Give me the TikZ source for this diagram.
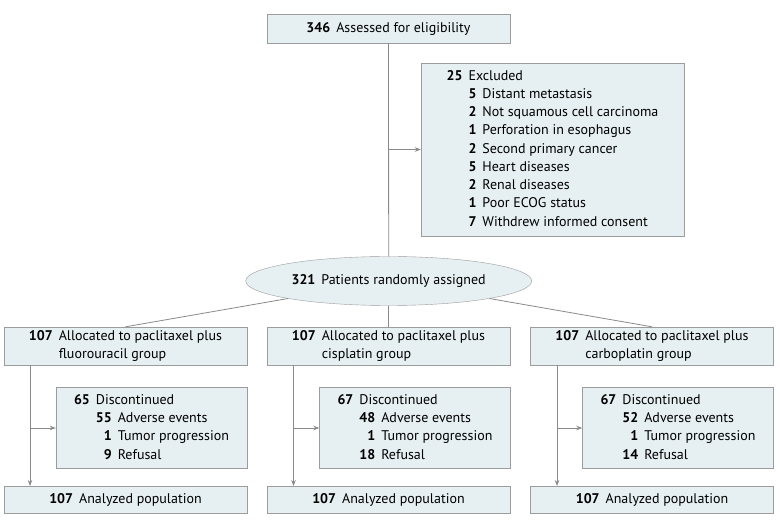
\documentclass[tikz,border=0pt]{standalone}
\usepackage{fontspec}
\setmainfont{PT Sans}
\usetikzlibrary{shapes.geometric,arrows.meta}
\definecolor{boxfill}{HTML}{E6EFF2}
\definecolor{boxline}{HTML}{9C9C9C}
\definecolor{flowline}{HTML}{8A8A8A}
\newcommand{\cnt}[1]{\textbf{#1}\hspace{6pt}}

\begin{document}
\begin{tikzpicture}[x=1pt,y=-1pt,
        font=\fontsize{14}{18.25}\selectfont,
        box/.style={rectangle,draw=boxline,fill=boxfill,inner sep=0pt,align=center},
        flow/.style={draw=flowline,line width=0.8pt},
        arr/.style={flow,-{Stealth[length=6pt,width=4.5pt]}}]
        \useasboundingbox (0,0) rectangle (780,526);
        % screening
        \node[box,minimum width=243,minimum height=29] (assess) at (388.5,28.5) {\cnt{346}Assessed for eligibility};
        \node[box,minimum width=263,minimum height=173] (excl) at (552.5,149.5) {%
            \begin{tabular}{@{}r@{\hspace{6pt}}r@{\hspace{6pt}}l@{}}
            \textbf{25} & \multicolumn{2}{@{}l@{}}{Excluded}\\
            & \textbf{5} & Distant metastasis\\
            & \textbf{2} & Not squamous cell carcinoma\\
            & \textbf{1} & Perforation in esophagus\\
            & \textbf{2} & Second primary cancer\\
            & \textbf{5} & Heart diseases\\
            & \textbf{2} & Renal diseases\\
            & \textbf{1} & Poor ECOG status\\
            & \textbf{7} & Withdrew informed consent
            \end{tabular}};
        \node[ellipse,draw=boxline,fill=boxfill,inner sep=0pt,minimum width=286,minimum height=49] (rand) at (388.7,281) {\cnt{321}Patients randomly assigned};
        \coordinate (split) at (388.5,149.5);
        \draw[flow] (assess) -- (rand);
        \draw[arr] (split) -- (excl);

        % groups
        \node[box,minimum width=243,minimum height=38] (g1) at (125.5,346) {%
            \begin{tabular}{@{}r@{\hspace{6pt}}l@{}}\textbf{107} & Allocated to paclitaxel plus\\ & fluorouracil group\end{tabular}};
        \node[box,minimum width=243,minimum height=38] (g2) at (388.5,346) {%
            \begin{tabular}{@{}r@{\hspace{6pt}}l@{}}\textbf{107} & Allocated to paclitaxel plus\\ & cisplatin group\end{tabular}};
        \node[box,minimum width=243,minimum height=38] (g3) at (652,346) {%
            \begin{tabular}{@{}r@{\hspace{6pt}}l@{}}\textbf{107} & Allocated to paclitaxel plus\\ & carboplatin group\end{tabular}};
        \draw[flow] (rand) -- (g1.north);
        \draw[flow] (rand) -- (g2.north);
        \draw[flow] (rand) -- (g3.north);

        % follow-up
        \node[box,minimum width=191,minimum height=81] (d1) at (151.5,428) {%
            \begin{tabular}{@{}r@{\hspace{6pt}}r@{\hspace{6pt}}l@{}}
            \textbf{65} & \multicolumn{2}{@{}l@{}}{Discontinued}\\
            & \textbf{55} & Adverse events\\
            & \textbf{1} & Tumor progression\\
            & \textbf{9} & Refusal
            \end{tabular}};
        \node[box,minimum width=191,minimum height=81] (d2) at (415,428) {%
            \begin{tabular}{@{}r@{\hspace{6pt}}r@{\hspace{6pt}}l@{}}
            \textbf{67} & \multicolumn{2}{@{}l@{}}{Discontinued}\\
            & \textbf{48} & Adverse events\\
            & \textbf{1} & Tumor progression\\
            & \textbf{18} & Refusal
            \end{tabular}};
        \node[box,minimum width=191,minimum height=81] (d3) at (678,428) {%
            \begin{tabular}{@{}r@{\hspace{6pt}}r@{\hspace{6pt}}l@{}}
            \textbf{67} & \multicolumn{2}{@{}l@{}}{Discontinued}\\
            & \textbf{52} & Adverse events\\
            & \textbf{1} & Tumor progression\\
            & \textbf{14} & Refusal
            \end{tabular}};
        \node[box,minimum width=243,minimum height=27] (a1) at (125.5,499.5) {\cnt{107}Analyzed population};
        \node[box,minimum width=243,minimum height=27] (a2) at (388.5,499.5) {\cnt{107}Analyzed population};
        \node[box,minimum width=243,minimum height=27] (a3) at (652,499.5) {\cnt{107}Analyzed population};

        \coordinate (t1) at (30,365);   \coordinate (b1) at (30,486);   \coordinate (m1) at (30,428);
        \coordinate (t2) at (293.5,365);\coordinate (b2) at (293.5,486);\coordinate (m2) at (293.5,428);
        \coordinate (t3) at (557,365);  \coordinate (b3) at (557,486);  \coordinate (m3) at (557,428);
        \draw[arr] (t1) -- (b1);
        \draw[arr] (t2) -- (b2);
        \draw[arr] (t3) -- (b3);
        \draw[arr] (m1) -- (d1);
        \draw[arr] (m2) -- (d2);
        \draw[arr] (m3) -- (d3);
\end{tikzpicture}
\end{document}
